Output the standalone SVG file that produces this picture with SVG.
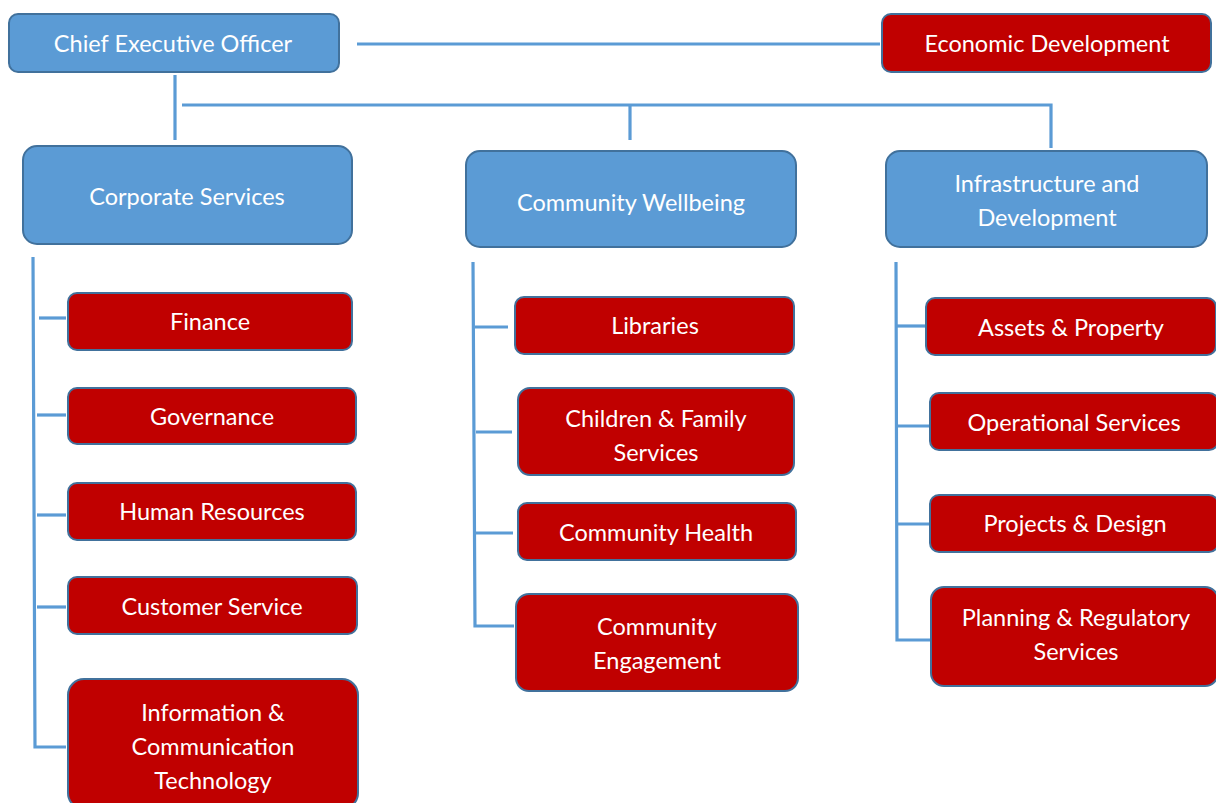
<svg xmlns="http://www.w3.org/2000/svg" width="1216" height="803" viewBox="0 0 1216 803">
<style>
.blue{fill:#5b9bd5;stroke:#41719c;stroke-width:2}
.red{fill:#c00000;stroke:#41719c;stroke-width:2}
.t{font-family:"Lato","Liberation Sans",sans-serif;font-size:23.5px;fill:#ffffff;text-anchor:middle}
.c{fill:none;stroke:#5b9bd5;stroke-width:3.2}
</style>
<rect width="1216" height="803" fill="#ffffff"/>
<g id="connectors">
<line class="c" x1="357" y1="44" x2="880" y2="44"/>
<line class="c" x1="175" y1="75" x2="175" y2="140"/>
<polyline class="c" points="182,105 1051,105 1051,148"/>
<line class="c" x1="630" y1="105" x2="630" y2="140"/>
<polyline class="c" points="33,257 35,747 66,747"/>
<line class="c" x1="39" y1="318" x2="66" y2="318"/>
<line class="c" x1="37" y1="415" x2="66" y2="415"/>
<line class="c" x1="37" y1="515" x2="66" y2="515"/>
<line class="c" x1="37" y1="607" x2="66" y2="607"/>
<polyline class="c" points="473,262 475,626 514,626"/>
<line class="c" x1="475" y1="327" x2="508" y2="327"/>
<line class="c" x1="476" y1="432" x2="512" y2="432"/>
<line class="c" x1="476" y1="533" x2="513" y2="533"/>
<polyline class="c" points="896,262 897,640 931,640"/>
<line class="c" x1="897" y1="326" x2="925" y2="326"/>
<line class="c" x1="897" y1="426" x2="930" y2="426"/>
<line class="c" x1="897" y1="524" x2="930" y2="524"/>
</g>
<g id="ceo"><rect class="blue" x="9" y="14" width="330" height="58" rx="9"/><text class="t" x="173" y="51.5">Chief Executive Officer</text></g>
<g id="economic-development"><rect class="red" x="882" y="14" width="329" height="58" rx="9"/><text class="t" x="1047" y="51.5">Economic Development</text></g>
<g id="corporate-services"><rect class="blue" x="23" y="146" width="329" height="98" rx="14"/><text class="t" x="187" y="205">Corporate Services</text></g>
<g id="community-wellbeing"><rect class="blue" x="466" y="151" width="330" height="96" rx="14"/><text class="t" x="631" y="210.5">Community Wellbeing</text></g>
<g id="infrastructure"><rect class="blue" x="886" y="151" width="321" height="96" rx="14"/><text class="t" x="1047" y="191.5">Infrastructure and</text><text class="t" x="1047" y="225.5">Development</text></g>
<g id="finance"><rect class="red" x="68" y="293" width="284" height="57" rx="9"/><text class="t" x="210" y="330">Finance</text></g>
<g id="governance"><rect class="red" x="68" y="388" width="288" height="56" rx="9"/><text class="t" x="212" y="424.5">Governance</text></g>
<g id="human-resources"><rect class="red" x="68" y="483" width="288" height="57" rx="9"/><text class="t" x="212" y="519.5">Human Resources</text></g>
<g id="customer-service"><rect class="red" x="68" y="577" width="289" height="57" rx="9"/><text class="t" x="212" y="614.5">Customer Service</text></g>
<g id="ict"><rect class="red" x="68" y="679" width="290" height="130" rx="16"/><text class="t" x="213" y="720.5">Information &amp;</text><text class="t" x="213" y="754.5">Communication</text><text class="t" x="213" y="788.5">Technology</text></g>
<g id="libraries"><rect class="red" x="515" y="297" width="279" height="57" rx="9"/><text class="t" x="655" y="333.5">Libraries</text></g>
<g id="children-family"><rect class="red" x="518" y="388" width="276" height="87" rx="12"/><text class="t" x="656" y="426.5">Children &amp; Family</text><text class="t" x="656" y="460.5">Services</text></g>
<g id="community-health"><rect class="red" x="518" y="503" width="278" height="57" rx="9"/><text class="t" x="656" y="540.5">Community Health</text></g>
<g id="community-engagement"><rect class="red" x="516" y="594" width="282" height="97" rx="13"/><text class="t" x="657" y="634.5">Community</text><text class="t" x="657" y="668.5">Engagement</text></g>
<g id="assets-property"><rect class="red" x="926" y="298" width="290" height="57" rx="9"/><text class="t" x="1071" y="335.5">Assets &amp; Property</text></g>
<g id="operational-services"><rect class="red" x="930" y="393" width="288" height="57" rx="9"/><text class="t" x="1074" y="430.5">Operational Services</text></g>
<g id="projects-design"><rect class="red" x="930" y="495" width="288" height="57" rx="9"/><text class="t" x="1075" y="531.5">Projects &amp; Design</text></g>
<g id="planning-regulatory"><rect class="red" x="931" y="587" width="287" height="99" rx="13"/><text class="t" x="1076" y="625.5">Planning &amp; Regulatory</text><text class="t" x="1076" y="659.5">Services</text></g>
</svg>
